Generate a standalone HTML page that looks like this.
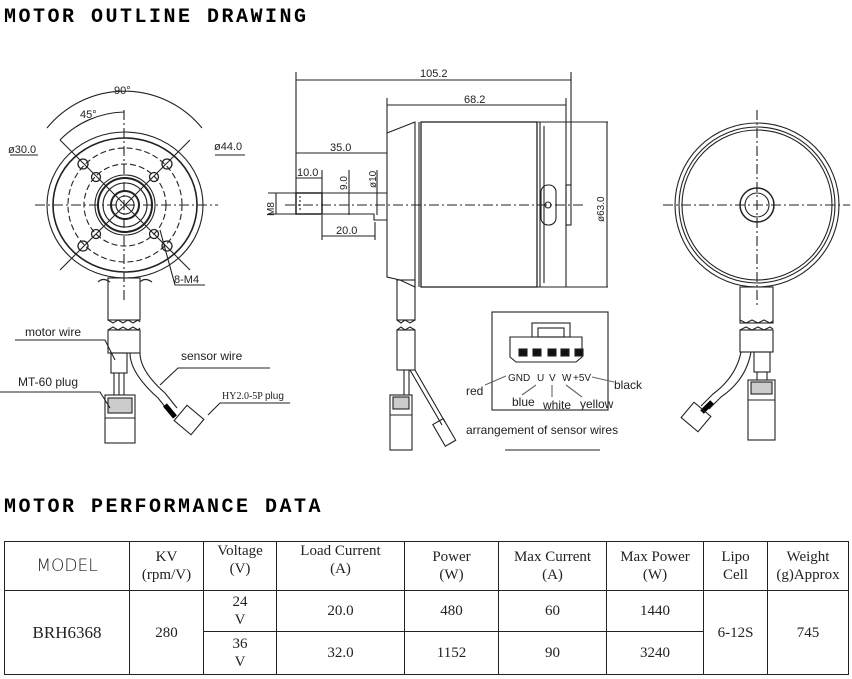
<!DOCTYPE html>
<html><head><meta charset="utf-8"><style>
body{margin:0;background:#fff;width:852px;height:679px;overflow:hidden;position:relative;font-family:"Liberation Sans",sans-serif}
.h{position:absolute;left:4px;font:bold 20px "Liberation Mono",monospace;letter-spacing:2.5px;color:#000}
table{position:absolute;left:4px;top:541px;border-collapse:collapse;font-family:"Liberation Serif",serif;font-size:15px;color:#222}
td{border:1.5px solid #222;text-align:center;padding:0;line-height:18px}
svg{position:absolute;left:0;top:0}
</style></head><body>
<div class="h" style="top:6px">MOTOR OUTLINE DRAWING</div>
<div class="h" style="top:496px">MOTOR PERFORMANCE DATA</div>
<svg width="852" height="530" viewBox="0 0 852 530" fill="none" stroke="#222" stroke-width="1.1">
<g>
<line x1="35" y1="205" x2="218" y2="205" stroke-dasharray="10,3,2,3"/>
<line x1="124" y1="110" x2="124" y2="300" stroke-dasharray="10,3,2,3"/>
<ellipse cx="125" cy="205" rx="78" ry="73"/>
<ellipse cx="125" cy="205" rx="72" ry="67" stroke-width="1.6"/>
<circle cx="125" cy="205" r="57" stroke-dasharray="6,3"/>
<circle cx="125" cy="205" r="41" stroke-dasharray="6,3"/>
<circle cx="125" cy="205" r="30"/><circle cx="125" cy="205" r="27" stroke-width="2"/><circle cx="125" cy="205" r="22"/>
<circle cx="125" cy="205" r="14" stroke-width="2"/><circle cx="125" cy="205" r="9"/>
<path d="M47 128 A100 100 0 0 1 202 128"/>
<path d="M60 140 A92 92 0 0 1 124 112"/>
<line x1="60" y1="140" x2="190" y2="270"/><line x1="190" y1="140" x2="60" y2="270"/>
<g stroke-width="1.3"><circle cx="83" cy="164" r="5"/><circle cx="167" cy="164" r="5"/><circle cx="83" cy="246" r="5"/><circle cx="167" cy="246" r="5"/>
<circle cx="96" cy="177" r="4.5"/><circle cx="154" cy="177" r="4.5"/><circle cx="96" cy="234" r="4.5"/><circle cx="154" cy="234" r="4.5"/></g>
<line x1="10" y1="155" x2="38" y2="155"/><line x1="215" y1="155" x2="245" y2="155"/>
<polyline points="160,230 175,285 205,285"/>
<path d="M98 282 q5-5 12 0 M140 282 q5-5 12 0"/>
<rect x="108" y="278" width="32" height="42"/>
<path d="M108 320 l5 3 l5-3 l5 3 l5-3 l5 3 l5-3 l2 2 M108 330 l5-3 l5 3 l5-3 l5 3 l5-3 l5 3 l2-2"/>
<rect x="108" y="330" width="32" height="23"/>
<rect x="111" y="353" width="16" height="20"/>
<line x1="114" y1="373" x2="114" y2="395"/><line x1="119" y1="373" x2="119" y2="395"/><line x1="124" y1="373" x2="124" y2="395"/>
<rect x="105" y="395" width="30" height="48"/><rect x="108" y="398" width="24" height="15" fill="#ccc"/><line x1="105" y1="418" x2="135" y2="418"/>
<path d="M130 353 q0 20 28 45 l12 15 M140 353 q0 18 25 40 l12 15"/>
<path d="M165 405 l10 12" stroke="#000" stroke-width="5"/>
<rect x="178" y="410" width="22" height="20" transform="rotate(40 189 420)"/>
<polyline points="15,340 105,340 115,360"/><polyline points="0,392 100,392 110,408"/>
<polyline points="270,368 178,368 160,385"/><polyline points="290,403 220,403 208,415"/>
</g>
<g fill="#222" stroke="none" font-size="12">
<text x="114" y="94" font-size="11">90°</text><text x="80" y="118" font-size="11">45°</text>
<text x="8" y="153" font-size="11">ø30.0</text><text x="214" y="150" font-size="11">ø44.0</text>
<text x="174" y="283" font-size="11">8-M4</text>
<text x="25" y="336">motor wire</text><text x="18" y="386">MT-60 plug</text>
<text x="181" y="360">sensor wire</text>
<text x="222" y="399" font-family="Liberation Serif" font-size="10">HY2.0-5P <tspan font-family="Liberation Sans">plug</tspan></text>
</g>
<g>
<line x1="296" y1="72" x2="296" y2="193"/><line x1="571" y1="72" x2="571" y2="185"/>
<line x1="296" y1="80" x2="571" y2="80"/>
<line x1="387" y1="98" x2="387" y2="133"/><line x1="566" y1="98" x2="566" y2="122"/>
<line x1="387" y1="105" x2="566" y2="105"/>
<line x1="296" y1="153" x2="387" y2="153"/><line x1="296" y1="178" x2="322" y2="178"/><line x1="322" y1="170" x2="322" y2="193"/>
<line x1="322" y1="215" x2="322" y2="240"/><line x1="375" y1="222" x2="375" y2="240"/><line x1="322" y1="236" x2="375" y2="236"/>
<line x1="349" y1="170" x2="349" y2="215"/><line x1="377" y1="170" x2="377" y2="215"/>
<line x1="268" y1="193" x2="296" y2="193"/><line x1="268" y1="214" x2="296" y2="214"/><line x1="276" y1="193" x2="276" y2="214"/>
<line x1="285" y1="205" x2="585" y2="205" stroke-dasharray="10,3,2,3"/>
<rect x="296" y="193" width="26" height="21" stroke-width="1.5"/>
<line x1="300" y1="196" x2="300" y2="211" stroke-dasharray="2,2"/>
<polyline points="322,193 387,193"/><polyline points="322,214 374,214 374,220 387,220"/>
<path d="M387 133 L415 122 L415 287 L400 280 L387 277 Z"/>
<line x1="419" y1="122" x2="419" y2="287"/>
<rect x="421" y="122" width="116" height="165" stroke-width="1.3"/>
<line x1="540" y1="122" x2="540" y2="287"/>
<path d="M537 122 L608 122 M537 287 L608 287 M566 122 L566 287"/>
<line x1="544" y1="126" x2="544" y2="283"/>
<line x1="607" y1="122" x2="607" y2="287"/>
<rect x="541" y="185" width="15" height="40" rx="7"/><circle cx="548" cy="205" r="3"/>
<rect x="566" y="185" width="5" height="40"/>
<rect x="397" y="280" width="18" height="40"/>
<path d="M397 320 l4 3 l4-3 l5 3 l5-3 M397 330 l4-3 l4 3 l5-3 l5 3"/>
<rect x="397" y="330" width="18" height="40"/>
<line x1="404" y1="370" x2="404" y2="395"/><line x1="409" y1="370" x2="409" y2="395"/>
<path d="M410 370 l32 55 M415 370 l30 52"/>
<rect x="438" y="420" width="12" height="25" transform="rotate(-30 444 432)"/>
<rect x="390" y="395" width="22" height="55"/><rect x="393" y="397" width="16" height="12" fill="#ccc"/><line x1="390" y1="415" x2="412" y2="415"/>
<rect x="492" y="312" width="116" height="98"/>
<path d="M510 337 h72 v20 l-6 5 h-60 l-6-5 Z"/>
<rect x="532" y="323" width="38" height="14"/><rect x="538" y="328" width="26" height="9"/>
<g fill="#111"><rect x="519" y="349" width="8" height="7"/><rect x="533" y="349" width="8" height="7"/><rect x="548" y="349" width="8" height="7"/><rect x="561" y="349" width="8" height="7"/><rect x="575" y="349" width="8" height="7"/></g>
<g stroke="#666"><line x1="485" y1="385" x2="506" y2="376"/><line x1="522" y1="395" x2="536" y2="385"/><line x1="552" y1="385" x2="552" y2="397"/><line x1="566" y1="385" x2="582" y2="397"/><line x1="592" y1="377" x2="614" y2="382"/></g>
<line x1="505" y1="450" x2="600" y2="450"/>
</g>
<g fill="#222" stroke="none" font-size="12">
<text x="420" y="77" font-size="11">105.2</text><text x="464" y="103" font-size="11">68.2</text>
<text x="330" y="151" font-size="11">35.0</text><text x="297" y="176" font-size="11">10.0</text><text x="336" y="234" font-size="11">20.0</text>
<text transform="translate(347 190) rotate(-90)" font-size="10">9.0</text><text transform="translate(376 188) rotate(-90)" font-size="10">ø10</text>
<text transform="translate(274 216) rotate(-90)" font-size="10">M8</text><text transform="translate(604 222) rotate(-90)" font-size="10">ø63.0</text>
<text x="508" y="381" font-size="10">GND</text><text x="537" y="381" font-size="10">U</text><text x="549" y="381" font-size="10">V</text><text x="562" y="381" font-size="10">W</text><text x="573" y="381" font-size="10">+5V</text>
<text x="466" y="395">red</text><text x="512" y="406">blue</text><text x="543" y="409">white</text><text x="580" y="408">yellow</text><text x="614" y="389">black</text>
<text x="466" y="434">arrangement of sensor wires</text>
</g>
<g>
<line x1="663" y1="205" x2="850" y2="205" stroke-dasharray="10,3,2,3"/>
<line x1="757" y1="110" x2="757" y2="305" stroke-dasharray="10,3,2,3"/>
<circle cx="757" cy="205" r="82"/><circle cx="757" cy="205" r="78"/><circle cx="757" cy="205" r="75"/>
<circle cx="757" cy="205" r="17" stroke-width="1.5"/><circle cx="757" cy="205" r="12"/>
<rect x="740" y="287" width="33" height="36"/>
<path d="M740 320 l6 3 l6-3 l6 3 l6-3 l6 3 l3-2 M740 330 l6-3 l6 3 l6-3 l6 3 l6-3 l3 2"/>
<rect x="740" y="330" width="33" height="22"/>
<rect x="754" y="352" width="16" height="20"/>
<line x1="757" y1="372" x2="757" y2="380"/><line x1="767" y1="372" x2="767" y2="380"/>
<rect x="748" y="380" width="27" height="60"/><rect x="751" y="382" width="21" height="12" fill="#ccc"/><line x1="748" y1="400" x2="775" y2="400"/>
<path d="M741 352 q-5 25 -28 42 l-12 12 M751 352 q-5 28 -30 45 l-12 12"/>
<path d="M712 402 l-10 10" stroke="#000" stroke-width="5"/>
<rect x="685" y="407" width="22" height="20" transform="rotate(40 696 417)"/>
</g>
</svg>
<table>
<tr style="height:49px"><td style="width:124px;font-family:'DejaVu Sans',sans-serif;font-weight:200;font-size:17px">MODEL</td><td style="width:73px">KV<br>(rpm/V)</td><td style="width:72px;vertical-align:top">Voltage<br>(V)</td><td style="width:127px;vertical-align:top">Load Current<br>(A)</td><td style="width:93px">Power<br>(W)</td><td style="width:107px">Max Current<br>(A)</td><td style="width:96px">Max Power<br>(W)</td><td style="width:63px">Lipo<br>Cell</td><td style="width:80px">Weight<br>(g)Approx</td></tr>
<tr style="height:41px"><td rowspan="2" style="font-size:17px">BRH6368</td><td rowspan="2">280</td><td>24<br>V</td><td>20.0</td><td>480</td><td>60</td><td>1440</td><td rowspan="2">6-12S</td><td rowspan="2">745</td></tr>
<tr style="height:43px"><td>36<br>V</td><td>32.0</td><td>1152</td><td>90</td><td>3240</td></tr>
</table>
</body></html>
